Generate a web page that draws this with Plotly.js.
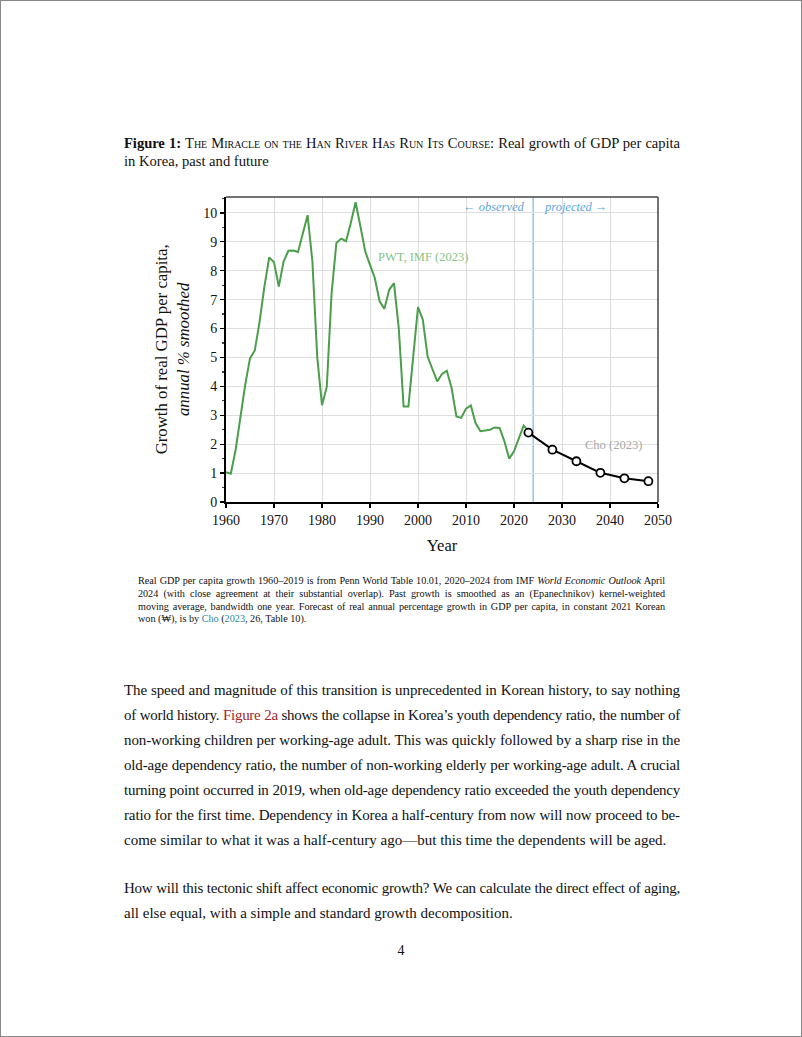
<!DOCTYPE html>
<html>
<head>
<meta charset="utf-8">
<script src="https://cdn.plot.ly/plotly-3.0.1.min.js"></script>
<style>
  html, body { margin:0; padding:0; background:#fff; width:802px; height:1037px; overflow:hidden; }
  body { position:relative; font-family:"Liberation Serif", "DejaVu Serif", serif; color:#111; }
  #frame { position:absolute; left:0; top:0; width:802px; height:1037px; box-sizing:border-box; border:1px solid #888; }
  .ln { white-space:nowrap; text-align:justify; text-align-last:justify; }
  .ln.last { text-align-last:left; }
  #figtitle { position:absolute; left:124px; top:134px; width:556px; font-size:14.6px; line-height:18px; }
  #figtitle .sc { font-variant:small-caps; }
  #chart { position:absolute; left:140px; top:180px; width:540px; height:390px; }
  #note { position:absolute; left:138px; top:575px; width:527px; font-size:10.2px; line-height:12.8px; }
  #body { position:absolute; left:124px; top:678px; width:556px; font-size:15px; line-height:25px; }
  #body .gap { height:23px; }
  #pagenum { position:absolute; left:0; width:802px; top:943px; text-align:center; font-size:14px; }
  .link { color:#2a86a8; }
  .red { color:#a3262a; }
</style>
</head>
<body>
<div id="frame"></div>
<div id="figtitle">
  <div class="ln"><span><b>Figure 1:</b> <span class="sc">The Miracle on the Han River Has Run Its Course</span>: Real growth of GDP per capita</span></div>
  <div class="ln last"><span>in Korea, past and future</span></div>
</div>
<div id="chart"></div>
<div id="note">
  <div class="ln"><span>Real GDP per capita growth 1960–2019 is from Penn World Table 10.01, 2020–2024 from IMF <i>World Economic Outlook</i> April</span></div>
  <div class="ln"><span>2024 (with close agreement at their substantial overlap). Past growth is smoothed as an (Epanechnikov) kernel-weighted</span></div>
  <div class="ln"><span>moving average, bandwidth one year. Forecast of real annual percentage growth in GDP per capita, in constant 2021 Korean</span></div>
  <div class="ln last"><span>won (₩), is by <span class="link">Cho</span> (<span class="link">2023</span>, 26, Table 10).</span></div>
</div>
<div id="body">
  <div class="ln"><span>The speed and magnitude of this transition is unprecedented in Korean history, to say nothing</span></div>
  <div class="ln"><span>of world history. <span class="red">Figure 2a</span> shows the collapse in Korea’s youth dependency ratio, the number of</span></div>
  <div class="ln"><span>non-working children per working-age adult. This was quickly followed by a sharp rise in the</span></div>
  <div class="ln"><span>old-age dependency ratio, the number of non-working elderly per working-age adult. A crucial</span></div>
  <div class="ln"><span>turning point occurred in 2019, when old-age dependency ratio exceeded the youth dependency</span></div>
  <div class="ln"><span>ratio for the first time. Dependency in Korea a half-century from now will now proceed to be-</span></div>
  <div class="ln last"><span>come similar to what it was a half-century ago—but this time the dependents will be aged.</span></div>
  <div class="gap"></div>
  <div class="ln"><span>How will this tectonic shift affect economic growth? We can calculate the direct effect of aging,</span></div>
  <div class="ln last"><span>all else equal, with a simple and standard growth decomposition.</span></div>
</div>
<div id="pagenum">4</div>
<script>
// Fit each typeset line into its column (compress letter-spacing if it overflows)
document.querySelectorAll('.ln').forEach(function(div){
  const span = div.firstElementChild;
  const target = div.clientWidth;
  const w = span.getBoundingClientRect().width;
  if (w > target - 2) {
    const n = span.textContent.length;
    div.style.letterSpacing = (-(w - target + 4) / n) + 'px';
  }
});

// Observed (smoothed) growth, PWT / IMF
const pastYears = [1960,1961,1962,1963,1964,1965,1966,1967,1968,1969,
  1970,1971,1972,1973,1974,1975,1976,1977,1978,1979,
  1980,1981,1982,1983,1984,1985,1986,1987,1988,1989,
  1990,1991,1992,1993,1994,1995,1996,1997,1998,1999,
  2000,2001,2002,2003,2004,2005,2006,2007,2008,2009,
  2010,2011,2012,2013,2014,2015,2016,2017,2018,2019,
  2020,2021,2022,2023];
const pastGrowth = [1.03,0.98,1.8,2.9,4.05,4.97,5.24,6.24,7.45,8.46,
  8.29,7.45,8.32,8.69,8.70,8.65,9.3,9.92,8.32,5.03,
  3.35,3.99,7.23,8.96,9.11,9.02,9.65,10.37,9.54,8.67,
  8.2,7.75,6.94,6.68,7.34,7.57,6.0,3.3,3.3,5.0,
  6.74,6.31,5.03,4.6,4.17,4.43,4.54,3.94,2.96,2.91,
  3.23,3.34,2.73,2.45,2.48,2.5,2.58,2.56,2.1,1.5,
  1.75,2.21,2.64,2.45];
// Projection, Cho (2023)
const projYears = [2023,2028,2033,2038,2043,2048];
const projGrowth = [2.40,1.81,1.41,1.01,0.82,0.72];
const projectionStart = 2024;
const xTicks = [1960,1970,1980,1990,2000,2010,2020,2030,2040,2050];
const yTicks = [0,1,2,3,4,5,6,7,8,9,10];

const serif = "Liberation Serif, DejaVu Serif, serif";

const traces = [
  { x: pastYears, y: pastGrowth, type:'scatter', mode:'lines',
    line:{color:'#4b9e4b', width:2}, hoverinfo:'skip' },
  { x: projYears, y: projGrowth, type:'scatter', mode:'lines+markers',
    line:{color:'#000', width:2},
    marker:{symbol:'circle', size:8, color:'#fff', line:{color:'#000', width:1.8}}, hoverinfo:'skip' }
];

const layout = {
  width:540, height:390,
  margin:{l:86, r:22, t:17, b:68},
  paper_bgcolor:'rgba(0,0,0,0)', plot_bgcolor:'#fff',
  showlegend:false,
  font:{family:serif, size:14, color:'#111'},
  xaxis:{
    range:[1960,2050], tickvals:xTicks, ticktext:xTicks.map(String),
    showgrid:true, gridcolor:'#dedede', gridwidth:1,
    showline:true, linecolor:'#000', linewidth:2,
    ticks:'outside', ticklen:4, tickcolor:'#000', tickwidth:1.2,
    zeroline:false, tickfont:{family:serif, size:14, color:'#111'},
    title:{text:'Year', font:{family:serif, size:16.5, color:'#111'}, standoff:13}
  },
  yaxis:{
    range:[0,10.55], tickvals:yTicks, ticktext:yTicks.map(String),
    showgrid:true, gridcolor:'#dedede', gridwidth:1,
    showline:true, linecolor:'#000', linewidth:2,
    ticks:'outside', ticklen:4, tickcolor:'#000', tickwidth:1.2,
    minor:{dtick:0.5, ticks:'outside', ticklen:2.5, tickcolor:'#444', showgrid:false},
    zeroline:false, tickfont:{family:serif, size:14, color:'#111'}
  },
  shapes:[
    {type:'line', xref:'paper', yref:'paper', x0:0, x1:1, y0:1, y1:1, line:{color:'#444', width:1.5}},
    {type:'line', xref:'paper', yref:'paper', x0:1, x1:1, y0:0, y1:1, line:{color:'#444', width:1.5}},
    {type:'line', xref:'x', yref:'paper', x0:projectionStart, x1:projectionStart, y0:0, y1:1, line:{color:'#8fc9ea', width:1.5}, layer:'below'}
  ],
  annotations:[
    {xref:'paper', yref:'paper', x:-0.123, y:0.5, xanchor:'center', yanchor:'middle', textangle:-90, showarrow:false,
     text:'Growth of real GDP per capita,<br><i>annual % smoothed</i>',
     font:{family:serif, size:16.8, color:'#111'}, align:'center'},
    {xref:'x', yref:'y', x:2001, y:8.48, showarrow:false, text:'PWT, IMF (2023)',
     font:{family:serif, size:12.5, color:'#86c486'}},
    {xref:'x', yref:'y', x:2040.8, y:1.97, showarrow:false, text:'Cho (2023)',
     font:{family:serif, size:12.5, color:'#a8a8a8'}},
    {xref:'x', yref:'y', x:2022.6, y:10.2, xanchor:'right', showarrow:false, text:'<i>← observed</i>',
     font:{family:serif, size:12.5, color:'#5ea6dc'}},
    {xref:'x', yref:'y', x:2025.8, y:10.2, xanchor:'left', showarrow:false, text:'<i>projected →</i>',
     font:{family:serif, size:12.5, color:'#5ea6dc'}}
  ]
};

Plotly.newPlot('chart', traces, layout, {staticPlot:true, displayModeBar:false});
</script>
</body>
</html>
